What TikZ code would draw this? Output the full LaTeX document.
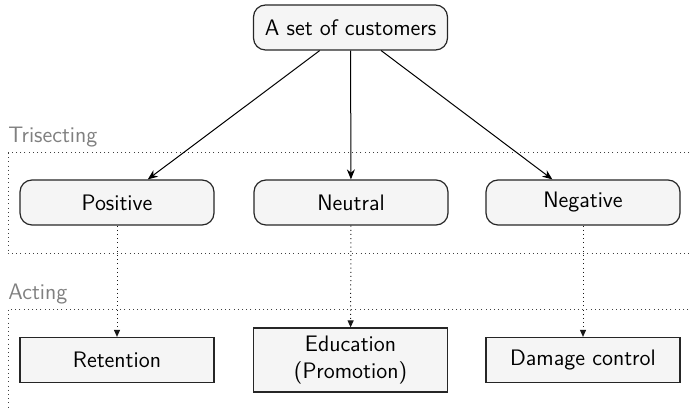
\documentclass[tikz,border=0pt]{standalone}
\usetikzlibrary{arrows.meta}
\begin{document}
\begin{tikzpicture}[x=0.5pt,y=-0.5pt,
  font=\sffamily\fontsize{11.2}{13.5}\selectfont,
  group/.style={rounded corners=6pt,draw=black!85,fill=black!4,line width=0.6pt,
    minimum width=97pt,minimum height=22.5pt,inner sep=0pt},
  action/.style={draw=black!85,fill=black!4,line width=0.6pt,
    minimum width=97pt,minimum height=22.5pt,inner sep=0pt,align=center},
  region/.style={draw=black!75,line width=0.5pt,dash pattern=on 0.5pt off 1.6pt},
  regionlabel/.style={text=black!50,anchor=south west,inner sep=0pt},
  split/.style={-{Stealth[length=5pt,width=4pt]},line width=0.5pt},
  act/.style={-{Triangle[length=3.5pt,width=3pt]},draw=black!90,line width=0.5pt,
    dash pattern=on 0.5pt off 1.6pt}]
\useasboundingbox (0,0) rectangle (690,410);
\clip (0,0) rectangle (690,410);

% stage frames
\draw[region] (8,153) rectangle (720,254);
\node[regionlabel] (trilabel) at (8,147) {Trisecting};
\draw[region] (8,310) rectangle (720,440);
\node[regionlabel] (actlabel) at (8,304) {Acting};

% nodes
\node[group] (all) at (350.5,27.5) {A set of customers};
\node[group] (pos) at (117,202.5) {Positive};
\node[group] (neu) at (351,202.5) {Neutral};
\node[group] (neg) at (583,202.5) {Negative};
\node[action] (ret) at (117,360) {Retention};
\node[action,minimum height=32pt] (edu) at (350.5,360) {Education\\(Promotion)};
\node[action] (dmg) at (583,360) {Damage control};

% connectors
\draw[split] (all) -- (pos);
\draw[split] (all) -- (neu);
\draw[split] (all) -- (neg);
\draw[act] (pos) -- (ret);
\draw[act] (neu) -- (edu);
\draw[act] (neg) -- (dmg);
\end{tikzpicture}
\end{document}
